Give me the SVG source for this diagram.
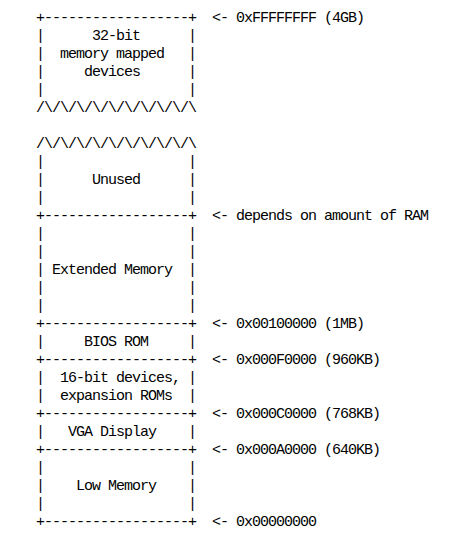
<svg xmlns="http://www.w3.org/2000/svg" width="466" height="544" viewBox="0 0 466 544">
<style>
text{font-family:"Liberation Mono","DejaVu Sans Mono",monospace;font-size:15px;letter-spacing:-1px;white-space:pre;fill:#000}
</style>
<rect width="466" height="544" fill="#fff"/>
<g id="memory-map">
<g id="mmio">
<text xml:space="preserve" x="36" y="22">+------------------+</text>
<text xml:space="preserve" x="36" y="40">|      32-bit      |</text>
<text xml:space="preserve" x="36" y="58">|  memory mapped   |</text>
<text xml:space="preserve" x="36" y="76">|     devices      |</text>
<text xml:space="preserve" x="36" y="94">|                  |</text>
<text xml:space="preserve" x="36" y="112">/\/\/\/\/\/\/\/\/\/\</text>
</g>
<g id="unused">
<text xml:space="preserve" x="36" y="148">/\/\/\/\/\/\/\/\/\/\</text>
<text xml:space="preserve" x="36" y="166">|                  |</text>
<text xml:space="preserve" x="36" y="184">|      Unused      |</text>
<text xml:space="preserve" x="36" y="202">|                  |</text>
<text xml:space="preserve" x="36" y="220">+------------------+</text>
</g>
<g id="extended">
<text xml:space="preserve" x="36" y="238">|                  |</text>
<text xml:space="preserve" x="36" y="256">|                  |</text>
<text xml:space="preserve" x="36" y="274">| Extended Memory  |</text>
<text xml:space="preserve" x="36" y="292">|                  |</text>
<text xml:space="preserve" x="36" y="310">|                  |</text>
<text xml:space="preserve" x="36" y="328">+------------------+</text>
</g>
<g id="bios">
<text xml:space="preserve" x="36" y="346">|     BIOS ROM     |</text>
<text xml:space="preserve" x="36" y="364">+------------------+</text>
</g>
<g id="devices16">
<text xml:space="preserve" x="36" y="382">|  16-bit devices, |</text>
<text xml:space="preserve" x="36" y="400">|  expansion ROMs  |</text>
<text xml:space="preserve" x="36" y="418">+------------------+</text>
</g>
<g id="vga">
<text xml:space="preserve" x="36" y="436">|   VGA Display    |</text>
<text xml:space="preserve" x="36" y="454">+------------------+</text>
</g>
<g id="low">
<text xml:space="preserve" x="36" y="472">|                  |</text>
<text xml:space="preserve" x="36" y="490">|    Low Memory    |</text>
<text xml:space="preserve" x="36" y="508">|                  |</text>
<text xml:space="preserve" x="36" y="526">+------------------+</text>
</g>
</g>
<g id="labels">
<text xml:space="preserve" x="212" y="22">&lt;- 0xFFFFFFFF (4GB)</text>
<text xml:space="preserve" x="212" y="220">&lt;- depends on amount of RAM</text>
<text xml:space="preserve" x="212" y="328">&lt;- 0x00100000 (1MB)</text>
<text xml:space="preserve" x="212" y="364">&lt;- 0x000F0000 (960KB)</text>
<text xml:space="preserve" x="212" y="418">&lt;- 0x000C0000 (768KB)</text>
<text xml:space="preserve" x="212" y="454">&lt;- 0x000A0000 (640KB)</text>
<text xml:space="preserve" x="212" y="526">&lt;- 0x00000000</text>
</g>
</svg>
